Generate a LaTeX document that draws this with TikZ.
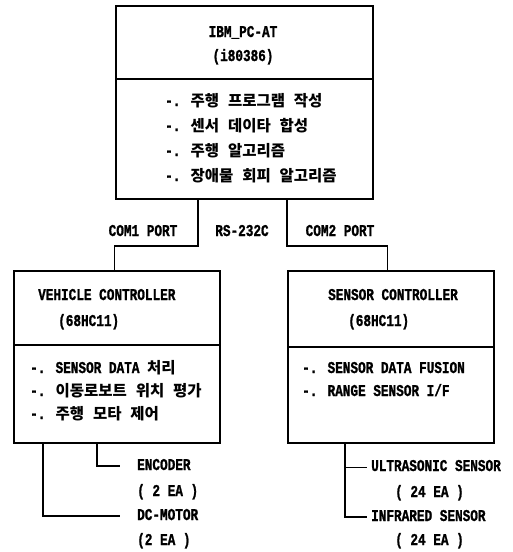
\documentclass[tikz,border=0pt]{standalone}
\usepackage{fontspec}
\newfontfamily\lat{Liberation Mono}[FakeStretch=0.77, BoldFeatures={FakeBold=1.2}]
\newfontfamily\kr{Noto Sans CJK KR}[WordSpace=2.5]
\newcommand{\K}[1]{{\kr\bfseries\fontsize{15.5}{18}\selectfont #1}}
\begin{document}
\begin{tikzpicture}[x=1pt,y=-1pt,
  boxpart/.style={draw, line width=1.5pt, inner sep=0pt, anchor=north west},
  lbl/.style={inner sep=0pt, text height=10pt, text depth=2pt, font=\lat\bfseries\fontsize{16.5}{19}\selectfont},
  wire/.style={line width=1.4pt},
  thinwire/.style={line width=0.8pt}]
\useasboundingbox (0,0) rectangle (513,552);
% boxes
\node[boxpart, minimum width=257pt, minimum height=73pt] (pch) at (115,5) {};
\node[boxpart, minimum width=257pt, minimum height=120pt] (pcb) at (115,78) {};
\node[boxpart, minimum width=206pt, minimum height=74pt] (vch) at (13,270) {};
\node[boxpart, minimum width=206pt, minimum height=98pt] (vcb) at (13,344) {};
\node[boxpart, minimum width=206pt, minimum height=76pt] (sch) at (287,270) {};
\node[boxpart, minimum width=206pt, minimum height=96pt] (scb) at (287,346) {};
% top box text
\node[lbl] (t1) at (243,33) {IBM\_PC-AT};
\node[lbl] (t2) at (243,57) {(i80386)};
\node[lbl, anchor=west] (b1) at (165,102) {-. \K{주행 프로그램 작성}};
\node[lbl, anchor=west] (b2) at (165,127) {-. \K{센서 데이타 합성}};
\node[lbl, anchor=west] (b3) at (165,152) {-. \K{주행 알고리즘}};
\node[lbl, anchor=west] (b4) at (165,177) {-. \K{장애물 회피 알고리즘}};
% port labels
\node[lbl] (com1) at (143,232) {COM1 PORT};
\node[lbl] (rs) at (242,232) {RS-232C};
\node[lbl] (com2) at (340,232) {COM2 PORT};
% left box text
\node[lbl, anchor=west] (v1) at (38,296) {VEHICLE CONTROLLER};
\node[lbl, anchor=west] (v2) at (58,322) {(68HC11)};
\node[lbl, anchor=west] (v3) at (30,369) {-. SENSOR DATA \K{처리}};
\node[lbl, anchor=west] (v4) at (30,392) {-. \K{이동로보트 위치 평가}};
\node[lbl, anchor=west] (v5) at (30,415) {-. \K{주행 모타 제어}};
% right box text
\node[lbl, anchor=west] (s1) at (328,296) {SENSOR CONTROLLER};
\node[lbl, anchor=west] (s2) at (348,322) {(68HC11)};
\node[lbl, anchor=west] (s3) at (302,369) {-. SENSOR DATA FUSION};
\node[lbl, anchor=west] (s4) at (302,392) {-. RANGE SENSOR I/F};
% bottom labels
\node[lbl, anchor=west] (enc) at (137,466) {ENCODER};
\node[lbl, anchor=west] (enc2) at (137,492) {( 2 EA )};
\node[lbl, anchor=west] (dcm) at (137,516) {DC-MOTOR};
\node[lbl, anchor=west] (dcm2) at (137,541) {(2 EA )};
\node[lbl, anchor=west] (us) at (371,467) {ULTRASONIC SENSOR};
\node[lbl, anchor=west] (us2) at (395,493) {( 24 EA )};
\node[lbl, anchor=west] (ir) at (371,517) {INFRARED SENSOR};
\node[lbl, anchor=west] (ir2) at (395,541) {( 24 EA )};
% connector coordinates
\coordinate (jl) at (198,246);
\coordinate (jr) at (287,246);
\coordinate (xenc) at (97,0);
\coordinate (xdc) at (43,0);
\coordinate (xs) at (345,0);
\coordinate (encend) at (120,466);
\coordinate (dcend) at (120,516);
\coordinate (usend) at (367,467);
\coordinate (irend) at (367,517);
% connectors
\draw[wire] (pcb.south -| jl) -- (jl) -| ([xshift=-2pt]vch.north);
\draw[wire] (pcb.south -| jr) -- (jr) -| ([xshift=-3pt]sch.north);
\draw[wire] (vcb.south -| xenc) |- (encend);
\draw[wire] (vcb.south -| xdc) |- (dcend);
\draw[wire] (scb.south -| xs) |- (irend);
\draw[thinwire] (usend -| xs) -- (usend);
\end{tikzpicture}
\end{document}
